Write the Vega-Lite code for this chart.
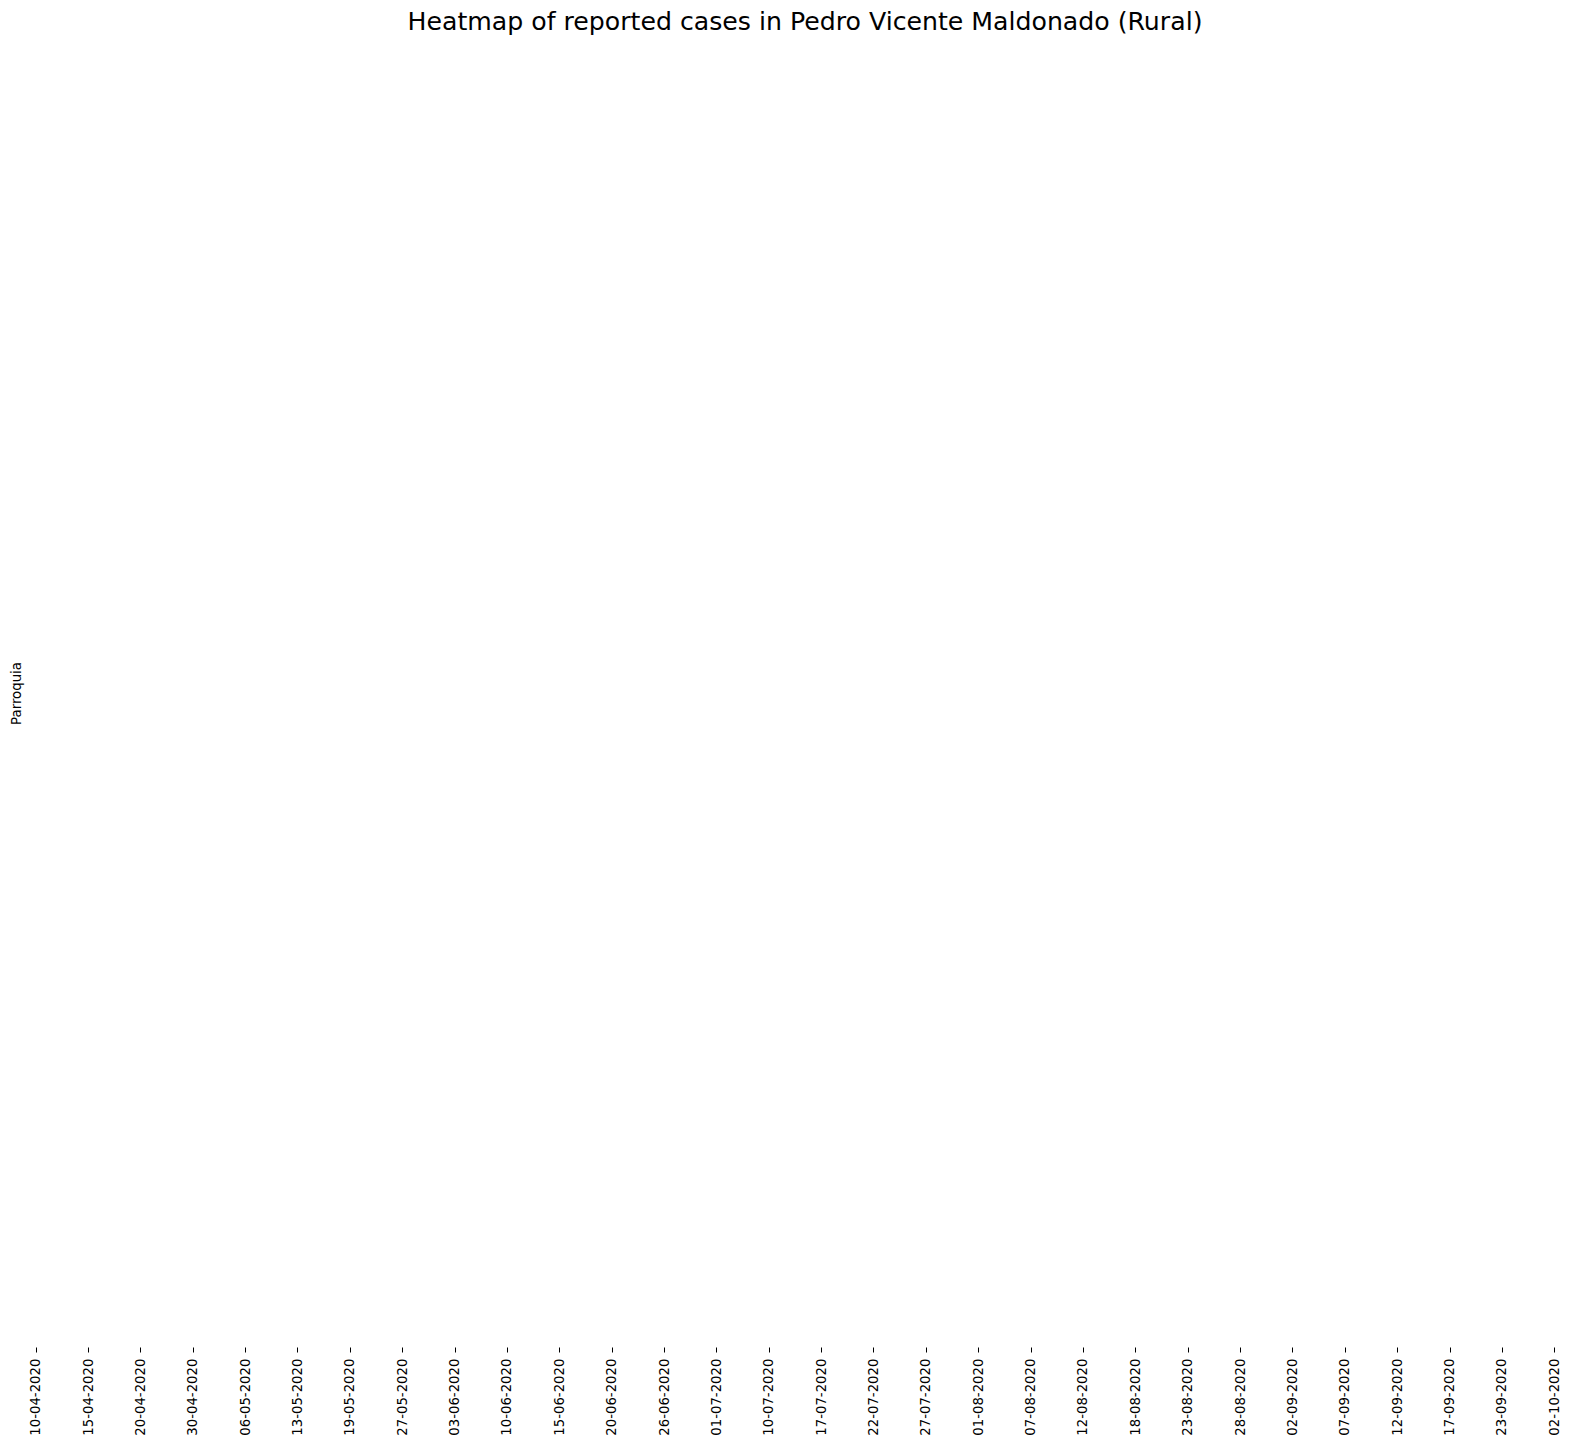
{
  "$schema": "https://vega.github.io/schema/vega-lite/v6.json",
  "autosize": {"type": "none"},
  "width": 1550,
  "height": 1307,
  "padding": {"left": 30, "top": 40, "right": 9, "bottom": 99},
  "background": "white",
  "title": {
    "text": "Heatmap of reported cases in Pedro Vicente Maldonado (Rural)",
    "font": "DejaVu Sans",
    "fontSize": 25.2,
    "fontWeight": "normal",
    "color": "black",
    "anchor": "middle",
    "baseline": "alphabetic",
    "offset": 11,
    "dy": 26
  },
  "data": {
    "values": [
      {"Fecha": "10-04-2020", "Parroquia": "Pedro Vicente Maldonado", "Casos": null},
      {"Fecha": "15-04-2020", "Parroquia": "Pedro Vicente Maldonado", "Casos": null},
      {"Fecha": "20-04-2020", "Parroquia": "Pedro Vicente Maldonado", "Casos": null},
      {"Fecha": "30-04-2020", "Parroquia": "Pedro Vicente Maldonado", "Casos": null},
      {"Fecha": "06-05-2020", "Parroquia": "Pedro Vicente Maldonado", "Casos": null},
      {"Fecha": "13-05-2020", "Parroquia": "Pedro Vicente Maldonado", "Casos": null},
      {"Fecha": "19-05-2020", "Parroquia": "Pedro Vicente Maldonado", "Casos": null},
      {"Fecha": "27-05-2020", "Parroquia": "Pedro Vicente Maldonado", "Casos": null},
      {"Fecha": "03-06-2020", "Parroquia": "Pedro Vicente Maldonado", "Casos": null},
      {"Fecha": "10-06-2020", "Parroquia": "Pedro Vicente Maldonado", "Casos": null},
      {"Fecha": "15-06-2020", "Parroquia": "Pedro Vicente Maldonado", "Casos": null},
      {"Fecha": "20-06-2020", "Parroquia": "Pedro Vicente Maldonado", "Casos": null},
      {"Fecha": "26-06-2020", "Parroquia": "Pedro Vicente Maldonado", "Casos": null},
      {"Fecha": "01-07-2020", "Parroquia": "Pedro Vicente Maldonado", "Casos": null},
      {"Fecha": "10-07-2020", "Parroquia": "Pedro Vicente Maldonado", "Casos": null},
      {"Fecha": "17-07-2020", "Parroquia": "Pedro Vicente Maldonado", "Casos": null},
      {"Fecha": "22-07-2020", "Parroquia": "Pedro Vicente Maldonado", "Casos": null},
      {"Fecha": "27-07-2020", "Parroquia": "Pedro Vicente Maldonado", "Casos": null},
      {"Fecha": "01-08-2020", "Parroquia": "Pedro Vicente Maldonado", "Casos": null},
      {"Fecha": "07-08-2020", "Parroquia": "Pedro Vicente Maldonado", "Casos": null},
      {"Fecha": "12-08-2020", "Parroquia": "Pedro Vicente Maldonado", "Casos": null},
      {"Fecha": "18-08-2020", "Parroquia": "Pedro Vicente Maldonado", "Casos": null},
      {"Fecha": "23-08-2020", "Parroquia": "Pedro Vicente Maldonado", "Casos": null},
      {"Fecha": "28-08-2020", "Parroquia": "Pedro Vicente Maldonado", "Casos": null},
      {"Fecha": "02-09-2020", "Parroquia": "Pedro Vicente Maldonado", "Casos": null},
      {"Fecha": "07-09-2020", "Parroquia": "Pedro Vicente Maldonado", "Casos": null},
      {"Fecha": "12-09-2020", "Parroquia": "Pedro Vicente Maldonado", "Casos": null},
      {"Fecha": "17-09-2020", "Parroquia": "Pedro Vicente Maldonado", "Casos": null},
      {"Fecha": "23-09-2020", "Parroquia": "Pedro Vicente Maldonado", "Casos": null},
      {"Fecha": "02-10-2020", "Parroquia": "Pedro Vicente Maldonado", "Casos": null}
    ]
  },
  "mark": {"type": "square", "opacity": 0, "size": 1},
  "encoding": {
    "x": {
      "field": "Fecha",
      "type": "ordinal",
      "sort": null,
      "scale": {
        "type": "point",
        "domain": ["10-04-2020","15-04-2020","20-04-2020","30-04-2020","06-05-2020","13-05-2020","19-05-2020","27-05-2020","03-06-2020","10-06-2020","15-06-2020","20-06-2020","26-06-2020","01-07-2020","10-07-2020","17-07-2020","22-07-2020","27-07-2020","01-08-2020","07-08-2020","12-08-2020","18-08-2020","23-08-2020","28-08-2020","02-09-2020","07-09-2020","12-09-2020","17-09-2020","23-09-2020","02-10-2020"],
        "padding": 0.3,
        "align": 0.18
      },
      "axis": {
        "title": null,
        "domain": false,
        "ticks": true,
        "tickSize": 5,
        "tickColor": "black",
        "tickWidth": 1,
        "labelAngle": -90,
        "labelFont": "DejaVu Sans",
        "labelFontSize": 13.3,
        "labelColor": "black",
        "labelPadding": 6,
        "labelOverlap": false,
        "grid": false
      }
    },
    "y": {
      "field": "Parroquia",
      "type": "nominal",
      "axis": {
        "title": "Parroquia",
        "labels": false,
        "ticks": false,
        "domain": false,
        "grid": false,
        "titleFont": "DejaVu Sans",
        "titleFontSize": 13.3,
        "titleFontWeight": "normal",
        "titleColor": "black",
        "titleAngle": -90,
        "titleBaseline": "middle",
        "titleX": -14,
        "titleY": 653
      }
    },
    "color": {"field": "Casos", "type": "quantitative", "legend": null}
  },
  "config": {"view": {"stroke": null}}
}
